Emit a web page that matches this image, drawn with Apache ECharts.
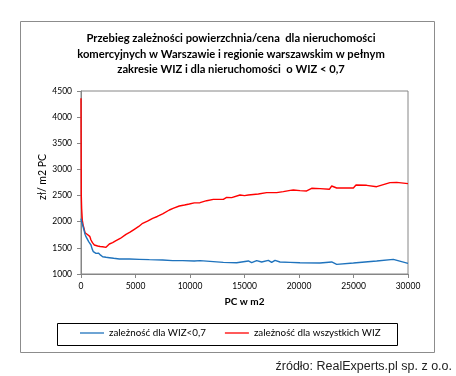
<!DOCTYPE html>
<html>
<head>
<meta charset="utf-8">
<script src="https://cdn.jsdelivr.net/npm/echarts@6/dist/echarts.min.js"></script>
<style>
  html, body { margin: 0; padding: 0; background: #fff; }
  #chart { width: 456px; height: 376px; }
</style>
</head>
<body>
<div id="chart"></div>
<script>
// zaleznosc dla wszystkich WIZ (red)
let allX = [0, 25, 60, 120, 200, 275, 370, 459, 560, 703, 800, 917, 1050, 1223, 1400, 1529, 1750, 1988, 2150, 2294,
  2450, 2600, 2900, 3211, 3600, 4128, 4500, 4893, 5300, 5657, 6100, 6574, 7000, 7491, 8102, 8500, 9020, 9500, 9937,
  10395, 10917, 11529, 12141, 13058, 13364, 13823, 14587, 15000, 15352, 16269, 17034, 17200, 17952, 18563, 19200,
  19480, 20092, 20703, 21162, 21926, 22783, 23000, 23458, 24987, 25228, 26209, 27126, 28348, 28960, 30000]
let allY = [4360, 2520, 2250, 2030, 1930, 1874, 1790, 1778, 1760, 1746, 1720, 1650, 1600, 1555, 1535, 1536, 1525, 1522, 1515, 1510,
  1545, 1574, 1600, 1637, 1680, 1759, 1800, 1855, 1910, 1970, 2010, 2065, 2100, 2148, 2224, 2260, 2301, 2320, 2339,
  2360, 2364, 2402, 2428, 2428, 2466, 2460, 2511, 2500, 2511, 2530, 2556, 2540, 2556, 2575, 2600,
  2607, 2594, 2588, 2639, 2632, 2620, 2683, 2645, 2645, 2702, 2696, 2670, 2747, 2753, 2728]

// zaleznosc dla WIZ<0,7 (blue)
let lowX = [0, 60, 120, 200, 275, 370, 459, 580, 703, 800, 917, 1020, 1131, 1250, 1376, 1450, 1529, 1600, 1682, 1800,
  1988, 2300, 2600, 3000, 3517, 4434, 5351, 6269, 7491, 8408, 9325, 10395, 10917, 11835, 13058, 14281, 15352, 15658,
  16117, 16575, 17187, 17493, 17799, 18258, 19175, 20092, 21926, 23000, 23458, 24987, 27126, 28654, 30000]
let lowY = [2060, 2000, 2033, 1900, 1842, 1760, 1714, 1680, 1618, 1600, 1555, 1480, 1427, 1410, 1395, 1400, 1427, 1400, 1395, 1360,
  1331, 1320, 1312, 1300, 1287, 1287, 1280, 1274, 1268, 1255, 1255, 1249, 1255, 1242, 1223, 1216, 1249, 1216,
  1255, 1230, 1261, 1223, 1261, 1230, 1223, 1216, 1210, 1230, 1185, 1210, 1249, 1280, 1204]

let titleLines = [
  'Przebieg zależności powierzchnia/cena  dla nieruchomości',
  'komercyjnych w Warszawie i regionie warszawskim w pełnym',
  'zakresie WIZ i dla nieruchomości  o WIZ < 0,7'
]
let seriesNames = ['zależność dla WIZ<0,7', 'zależność dla wszystkich WIZ']

function pairs (xs, ys) {
  return xs.map(function (x, i) { return [x, ys[i]] })
}

let chart = echarts.init(document.getElementById('chart'))
let axisGray = '#868686'
let font = 'Lato, "DejaVu Sans", sans-serif'

let option = {
  backgroundColor: '#fff',
  animation: false,
  title: {
    text: titleLines.join('\n'),
    left: 226,
    top: 26,
    textAlign: 'center',
    textStyle: {
      fontFamily: font,
      fontSize: 11.2,
      fontWeight: 'bold',
      color: '#000',
      lineHeight: 15.5
    }
  },
  grid: {
    left: 81,
    right: 48,
    top: 91,
    bottom: 102,
    show: true,
    borderColor: axisGray,
    borderWidth: 1
  },
  legend: {
    left: 80,
    top: 328,
    padding: 0,
    icon: 'rect',
    itemWidth: 24,
    itemHeight: 1.3,
    itemGap: 19,
    data: seriesNames,
    textStyle: {fontFamily: font, fontSize: 9.8, color: '#000'}
  },
  xAxis: {
    type: 'value',
    min: 0,
    max: 30000,
    interval: 5000,
    name: 'PC w m2',
    nameLocation: 'middle',
    nameGap: 23,
    nameTextStyle: {fontFamily: font, fontSize: 10, fontWeight: 'bold', color: '#000'},
    splitLine: {show: false},
    axisLine: {lineStyle: {color: axisGray}},
    axisTick: {length: 4, lineStyle: {color: axisGray}},
    axisLabel: {
      fontFamily: font,
      fontSize: 8.5,
      color: '#000',
      margin: 8,
      formatter: function (value) {
        return String(value)
      }
    }
  },
  yAxis: {
    type: 'value',
    min: 1000,
    max: 4500,
    interval: 500,
    splitLine: {show: false},
    axisLine: {show: true, lineStyle: {color: axisGray}},
    axisTick: {show: true, length: 4, lineStyle: {color: axisGray}},
    axisLabel: {
      fontFamily: font,
      fontSize: 8.5,
      color: '#000',
      margin: 9,
      formatter: function (value) {
        return String(value)
      }
    }
  },
  graphic: [
    {
      type: 'rect',
      shape: {x: 20.5, y: 21.5, width: 414, height: 331},
      style: {fill: null, stroke: '#8c8c8c', lineWidth: 1},
      silent: true
    },
    {
      type: 'rect',
      shape: {x: 57.5, y: 323.5, width: 340, height: 22},
      style: {fill: null, stroke: '#000', lineWidth: 1},
      silent: true
    },
    {
      type: 'text',
      x: 43,
      y: 177,
      rotation: Math.PI / 2,
      style: {
        text: 'zł/ m2 PC',
        fontFamily: font,
        fontSize: 10.5,
        fill: '#000',
        align: 'center',
        verticalAlign: 'middle'
      }
    },
    {
      type: 'text',
      right: 4,
      top: 360,
      style: {
        text: 'źródło: RealExperts.pl sp. z o.o.',
        fontFamily: '"Liberation Sans", Arial, sans-serif',
        fontSize: 12.5,
        fill: '#222'
      }
    }
  ],
  series: [
    {
      name: seriesNames[0],
      type: 'line',
      data: pairs(lowX, lowY),
      symbol: 'none',
      z: 3,
      lineStyle: {color: '#1f73bd', width: 1.4},
      itemStyle: {color: '#1f73bd'}
    },
    {
      name: seriesNames[1],
      type: 'line',
      data: pairs(allX, allY),
      symbol: 'none',
      z: 2,
      lineStyle: {color: '#ff0000', width: 1.4},
      itemStyle: {color: '#ff0000'}
    }
  ]
}
chart.setOption(option)
</script>
</body>
</html>
